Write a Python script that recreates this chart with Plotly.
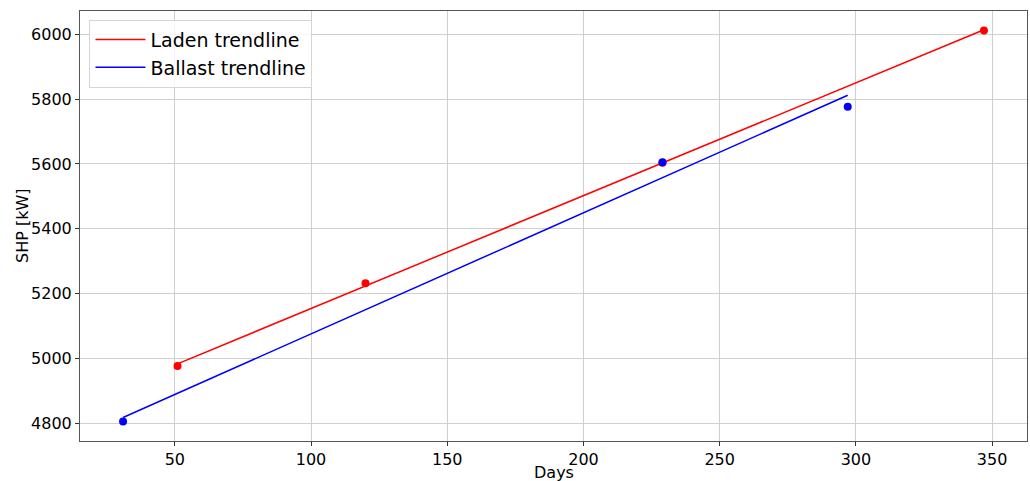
import numpy as np
import plotly.graph_objects as go

# Sea-trial style measurements: shaft horsepower vs. days since dry-dock
laden_days = [51, 120, 229, 347]
laden_shp = [4976, 5232, 5604, 6012]
ballast_days = [31, 229, 297]
ballast_shp = [4805, 5605, 5777]

x_ticks = [50, 100, 150, 200, 250, 300, 350]
y_ticks = [4800, 5000, 5200, 5400, 5600, 5800, 6000]


def trend(xs, ys):
    k, b = np.polyfit(xs, ys, 1)
    xe = np.array([min(xs), max(xs)])
    return xe, k * xe + b


font = "DejaVu Sans"
fig = go.Figure()

lx, ly = trend(laden_days, laden_shp)
bx, by = trend(ballast_days, ballast_shp)

fig.add_trace(go.Scatter(x=lx, y=ly, mode="lines", name="Laden trendline",
                         line=dict(color="red", width=1.5)))
fig.add_trace(go.Scatter(x=bx, y=by, mode="lines", name="Ballast trendline",
                         line=dict(color="blue", width=1.5)))
fig.add_trace(go.Scatter(x=laden_days, y=laden_shp, mode="markers", showlegend=False,
                         marker=dict(color="red", size=8)))
fig.add_trace(go.Scatter(x=ballast_days, y=ballast_shp, mode="markers", showlegend=False,
                         marker=dict(color="blue", size=8)))

axis_common = dict(
    showgrid=True, gridcolor="#cfcfcf", gridwidth=1,
    showline=True, linecolor="#555555", linewidth=1, mirror=True,
    ticks="outside", ticklen=4, tickcolor="#333333",
    tickfont=dict(family=font, size=16, color="black"),
    zeroline=False, automargin=False,
)

fig.update_layout(
    width=1030, height=481,
    margin=dict(l=80, r=3, t=11, b=40),
    paper_bgcolor="white", plot_bgcolor="white",
    font=dict(family=font, color="black"),
    xaxis=dict(range=[15.2, 362.8], tickvals=x_ticks, **axis_common),
    yaxis=dict(range=[4744.6, 6072.4], tickvals=y_ticks, **axis_common),
    legend=dict(x=0.01, y=0.98, xanchor="left", yanchor="top",
                bgcolor="rgba(255,255,255,0.8)", bordercolor="#d5d5d5", borderwidth=1,
                font=dict(family=font, size=19), tracegroupgap=0, itemwidth=50),
    annotations=[
        dict(text="Days", xref="paper", yref="paper", x=0.5, y=0, yshift=-31,
             xanchor="center", yanchor="middle", showarrow=False,
             font=dict(family=font, size=16)),
        dict(text="SHP [kW]", xref="paper", yref="paper", x=0, y=0.5, xshift=-58,
             xanchor="center", yanchor="middle", showarrow=False, textangle=-90,
             font=dict(family=font, size=16)),
    ],
)

fig.write_html("out.html")
